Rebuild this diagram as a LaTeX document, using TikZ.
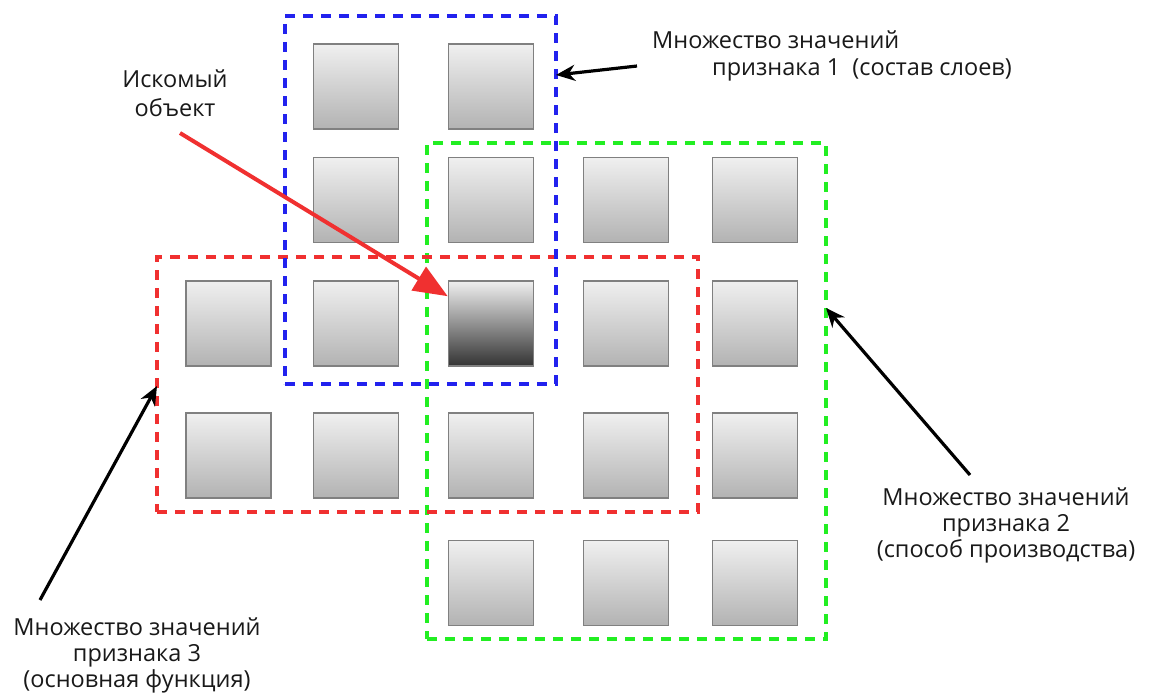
\documentclass[tikz,border=0pt]{standalone}
\usepackage{fontspec}
\setmainfont{Open Sans}
\usetikzlibrary{arrows.meta}
\definecolor{dgreen}{HTML}{22EE22}
\definecolor{dblue}{HTML}{2222EE}
\definecolor{dred}{HTML}{F03030}
\definecolor{sqborder}{HTML}{808080}
\begin{document}
\begin{tikzpicture}[x=1pt,y=-1pt,
  sq/.style={draw=sqborder, line width=1.5pt, minimum width=85pt, minimum height=85pt, inner sep=0pt, top color=black!6, bottom color=black!30},
  sqdark/.style={sq, top color=black!6, bottom color=black!80},
  grp/.style={line width=3.4pt, dash pattern=on 10pt off 8pt, inner sep=0pt, fill=none},
  lbl/.style={font=\fontsize{23.5}{26}\selectfont, text=black!90, align=center, inner sep=0pt},
  blk/.style={-{Stealth[length=19pt,width=16pt,inset=6pt]}, line width=3.2pt, black},
]
\useasboundingbox (0,0) rectangle (1155,693);
% squares
\foreach \c/\x in {1/228.5,2/356,3/491,4/626,5/755}{
  \foreach \r/\y in {1/86.5,2/200,3/323.5,4/455.5,5/583}{
    \coordinate (p\c\r) at (\x,\y);
  }
}
\node[sq] (s21) at (p21) {};
\node[sq] (s31) at (p31) {};
\node[sq] (s22) at (p22) {};
\node[sq] (s32) at (p32) {};
\node[sq] (s42) at (p42) {};
\node[sq] (s52) at (p52) {};
\node[sq] (s13) at (p13) {};
\node[sq] (s23) at (p23) {};
\node[sqdark] (s33) at (p33) {};
\node[sq] (s43) at (p43) {};
\node[sq] (s53) at (p53) {};
\node[sq] (s14) at (p14) {};
\node[sq] (s24) at (p24) {};
\node[sq] (s34) at (p34) {};
\node[sq] (s44) at (p44) {};
\node[sq] (s54) at (p54) {};
\node[sq] (s35) at (p35) {};
\node[sq] (s45) at (p45) {};
\node[sq] (s55) at (p55) {};
% group rectangles
\node[grp, draw=dgreen, minimum width=399pt, minimum height=496pt] (green) at (626.5,391) {};
\node[grp, draw=dred, minimum width=541pt, minimum height=255pt] (red) at (427.5,384.5) {};
\node[grp, draw=dblue, minimum width=271pt, minimum height=368pt] (blue) at (420.5,200) {};
% labels
\node[lbl, anchor=west] (l1a) at (652,40) {Множество значений};
\node[lbl, anchor=west] (l1b) at (712,70) {признака 1\ \ (состав слоев)};
\node[lbl] (obj) at (175,93) {Искомый\\[3pt]объект};
\node[lbl] (l2) at (1006,525) {Множество значений\\признака 2\\(способ производства)};
\node[lbl] (l3) at (137,655) {Множество значений\\признака 3\\(основная функция)};
% arrow tips / tails
\coordinate (t1) at (556,75);
\coordinate (t2) at (157,386);
\coordinate (t3) at (826,308);
\coordinate (tr) at ([yshift=-16pt]s33.north west);
\coordinate (a1) at (637,66);
\coordinate (a2) at (40,600);
\coordinate (a3) at (970,475);
\coordinate (ar) at (180,133);
% arrows
\draw[blk] (a1) -- (t1);
\draw[blk] (a2) -- (t2);
\draw[blk] (a3) -- (t3);
\draw[-{Triangle[length=34pt,width=27pt]}, line width=4pt, dred] (ar) -- (tr);
\end{tikzpicture}
\end{document}
